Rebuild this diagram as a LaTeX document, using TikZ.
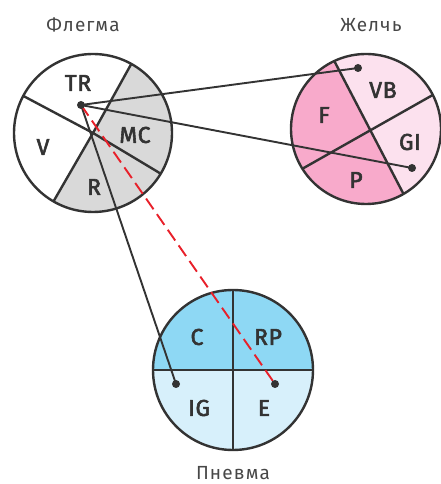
\documentclass[tikz,border=0pt]{standalone}
\usepackage{fontspec}
\setmainfont{Fira Sans}
\newfontfamily\titlefont{Fira Sans}[LetterSpace=6]
\newfontfamily\labelfont{Fira Sans}[FakeBold=2.5,LetterSpace=3]
\definecolor{ink}{HTML}{333333}
\definecolor{phlegmgray}{HTML}{D9D9D9}
\definecolor{biledark}{HTML}{F8AACB}
\definecolor{bilelight}{HTML}{FCE1EE}
\definecolor{pneumadark}{HTML}{8ED8F4}
\definecolor{pneumalight}{HTML}{D7F0FB}
\definecolor{linkred}{HTML}{E8202A}
\tikzset{
  rim/.style={draw=ink,line width=2.4pt},
  lbl/.style={text=ink,font=\labelfont\fontsize{23}{23}\selectfont},
  title/.style={text=ink!90,font=\titlefont\fontsize{19}{19}\selectfont},
  dot/.style={circle,fill=ink,inner sep=0pt,minimum size=8pt},
}
\begin{document}
\begin{tikzpicture}[x=1pt,y=1pt,line join=round]
  \useasboundingbox (0,0) rectangle (440,484);
  % Флегма
  \coordinate (pc) at (93,351);
  \fill[phlegmgray] (pc) -- ++(240:79) arc[start angle=240,end angle=421,radius=79] -- cycle;
  \foreach \a in {61,152,240,329}
    \draw[rim] (pc) -- ++(\a:79);
  \draw[rim] (pc) circle[radius=79];
  % Желчь
  \coordinate (bc) at (366,355);
  \path (bc) ++(115:75) coordinate (b1)
        (bc) ++(27:75) coordinate (b2)
        (bc) ++(300:75) coordinate (b3)
        (bc) ++(212:75) coordinate (b4);
  \coordinate (bx) at (intersection of b1--b3 and b2--b4);
  \fill[bilelight] (bx) -- (b3) arc[start angle=300,end angle=475,radius=75] -- cycle;
  \fill[biledark] (bx) -- (b1) arc[start angle=115,end angle=300,radius=75] -- cycle;
  \draw[rim] (b1) -- (b3) (b2) -- (b4);
  \draw[rim] (bc) circle[radius=75];
  % Пневма
  \coordinate (nc) at (233,114);
  \fill[pneumadark] (nc) ++(0:80) arc[start angle=0,end angle=180,radius=80] -- cycle;
  \fill[pneumalight] (nc) ++(180:80) arc[start angle=180,end angle=360,radius=80] -- cycle;
  \draw[rim] (nc) ++(0,80) -- ++(0,-160) (nc) ++(-80,0) -- ++(160,0);
  \draw[rim] (nc) circle[radius=80];
  % labels
  \draw
    (83,459) node[title] (phlegm) {Флегма}
    (371,459) node[title] (bile) {Желчь}
    (233,11) node[title] (pneuma) {Пневма};
  \draw
    (78,401) node[lbl] (tr) {TR}
    (43,337) node[lbl] (v) {V}
    (135,349) node[lbl] (mc) {MC}
    (94,297) node[lbl] (r) {R}
    (383,394) node[lbl] (vb) {VB}
    (324,369) node[lbl] (f) {F}
    (410,342) node[lbl] (gi) {GI}
    (356,304) node[lbl] (p) {P}
    (197,147) node[lbl] (c) {C}
    (268,147) node[lbl] (rp) {RP}
    (199,76) node[lbl] (ig) {IG}
    (264,76) node[lbl] (e) {E};
  % links
  \coordinate (trdot) at (81,379);
  \coordinate (vbdot) at (358,416);
  \coordinate (gidot) at (412,316);
  \coordinate (igdot) at (176,100);
  \coordinate (edot) at (275,100);
  \begin{scope}[draw=ink,line width=1.9pt]
    \draw (trdot) to (vbdot);
    \draw (trdot) to (gidot);
    \draw (trdot) to (igdot);
  \end{scope}
  \draw[linkred,line width=1.9pt,dash pattern=on 13pt off 6pt] (trdot) to (edot);
  \foreach \d in {trdot,vbdot,gidot,igdot,edot}
    \node[dot] at (\d) {};
\end{tikzpicture}
\end{document}
